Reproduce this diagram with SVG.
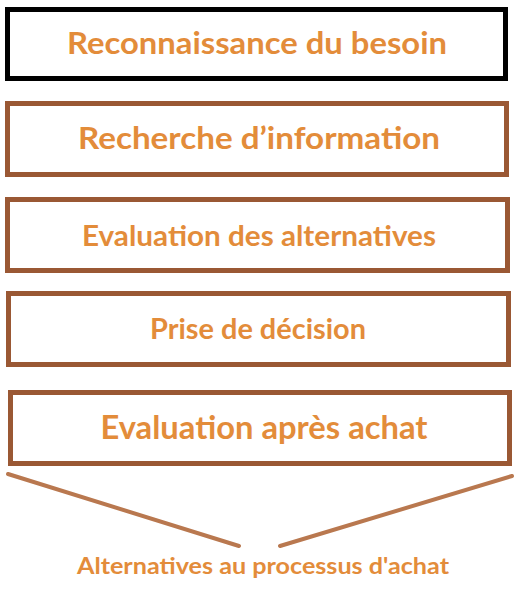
<svg xmlns="http://www.w3.org/2000/svg" width="526" height="591" viewBox="0 0 526 591">
<style>
.box{fill:#fff;stroke:#9a5834;stroke-width:5}
.t{font-family:Lato,"Open Sans","Liberation Sans",sans-serif;font-weight:700;fill:#e38c3a;text-anchor:middle}
.con{stroke:#b9784f;stroke-width:4;stroke-linecap:round;fill:none}
</style>
<rect width="526" height="591" fill="#fff"/>
<g id="n1"><rect class="box" x="7.5" y="9.5" width="498" height="69" style="stroke:#000"/><text class="t" x="257" y="54" font-size="31" textLength="380" lengthAdjust="spacingAndGlyphs">Reconnaissance du besoin</text></g>
<g id="n2"><rect class="box" x="7.5" y="103.5" width="499" height="71"/><text class="t" x="259" y="149" font-size="31" textLength="362" lengthAdjust="spacingAndGlyphs">Recherche d’information</text></g>
<g id="n3"><rect class="box" x="7.5" y="199.5" width="500" height="71"/><text class="t" x="259" y="246" font-size="28" textLength="354" lengthAdjust="spacingAndGlyphs">Evaluation des alternatives</text></g>
<g id="n4"><rect class="box" x="8.5" y="293.5" width="500" height="71"/><text class="t" x="258" y="339" font-size="28" textLength="216" lengthAdjust="spacingAndGlyphs">Prise de décision</text></g>
<g id="n5"><rect class="box" x="10.5" y="392.5" width="499" height="71"/><text class="t" x="264" y="439" font-size="32" textLength="327" lengthAdjust="spacingAndGlyphs">Evaluation après achat</text></g>
<g id="connectors"><line class="con" x1="8" y1="474" x2="239" y2="546"/><line class="con" x1="280" y1="546" x2="512" y2="476"/></g>
<g id="n6"><text class="t" x="263" y="574" font-size="23" textLength="372" lengthAdjust="spacingAndGlyphs">Alternatives au processus d'achat</text></g>
</svg>
